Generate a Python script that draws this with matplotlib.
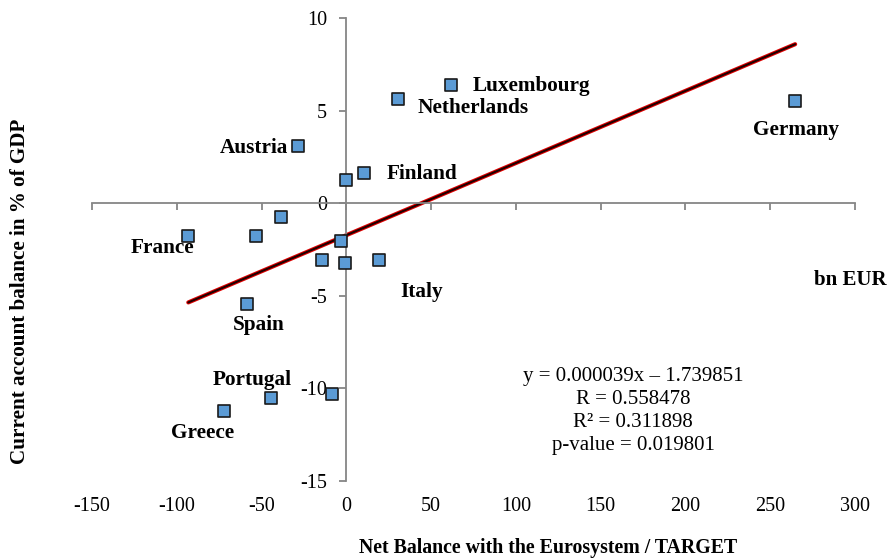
import matplotlib
matplotlib.use("Agg")
import matplotlib.pyplot as plt

plt.rcParams['font.family'] = ['Liberation Serif', 'DejaVu Serif']
plt.rcParams['axes.unicode_minus'] = False

# Data (bn EUR, % of GDP)
countries = ["Luxembourg", "Netherlands", "Germany", "Austria", "Finland", "",
             "", "France", "", "", "", "", "Italy", "Spain", "Portugal", "", "Greece"]
net_balance = [61.9, 30.7, 264.7, -28.3, 10.6, 0.0, -38.3, -93.2, -53.1, -2.9,
               -14.2, -0.6, 19.5, -58.4, -44.2, -8.3, -71.9]
current_account = [6.38, 5.62, 5.51, 3.08, 1.62, 1.24, -0.76, -1.78, -1.78, -2.05,
                   -3.08, -3.24, -3.08, -5.46, -10.54, -10.32, -11.24]

# regression as printed (slope per bn EUR)
slope = 0.039
intercept = -1.739851
stats_lines = ["y = 0.000039x \u2013 1.739851", "R = 0.558478",
               "R\u00b2 = 0.311898", "p-value = 0.019801"]

x_ticks = [-150, -100, -50, 0, 50, 100, 150, 200, 250, 300]
y_ticks = [-15, -10, -5, 0, 5, 10]

# label offsets in pixels (dx, dy, ha)
label_offsets = {
    "Luxembourg": (21, -1, "left"),
    "Netherlands": (19, -9, "left"),
    "Germany": (1, -29, "center"),
    "Austria": (-10, -2, "right"),
    "Finland": (22, -1, "left"),
    "France": (-26, -12, "center"),
    "Italy": (42, -32, "center"),
    "Spain": (11, -21, "center"),
    "Portugal": (-19, 18, "center"),
    "Greece": (-22, -22, "center"),
}

W, H = 889, 560
fig = plt.figure(figsize=(W / 100, H / 100), dpi=100)
ax = fig.add_axes([92 / W, 79.5 / H, 763 / W, 462.5 / H])
ax.set_xlim(-150, 300)
ax.set_ylim(-15, 10)

grey = "#868686"
for s in ["top", "right"]:
    ax.spines[s].set_visible(False)
ax.spines["left"].set_position(("data", 0))
ax.spines["bottom"].set_position(("data", 0))
for s in ["left", "bottom"]:
    ax.spines[s].set_color(grey)
    ax.spines[s].set_linewidth(1.3)

ax.set_xticks(x_ticks)
ax.set_yticks(y_ticks)
ax.tick_params(axis="both", direction="out", length=5, width=1.3, color=grey)
ax.tick_params(axis="x", labelbottom=False)
ax.tick_params(axis="y", labelsize=14.5, pad=9)

sec = ax.secondary_xaxis(location=0)
sec.set_xticks(x_ticks)
sec.spines["bottom"].set_visible(False)
sec.tick_params(axis="x", length=0, labelsize=14.5, pad=12)

# regression line
xmin, xmax = min(net_balance), max(net_balance)
xs = [xmin, xmax]
ys = [intercept + slope * v for v in xs]
ax.plot(xs, ys, color="#E00000", lw=3.0, solid_capstyle="round", zorder=2)
ax.plot(xs, ys, color="#200000", lw=1.5, solid_capstyle="round", zorder=2)

ax.scatter(net_balance, current_account, marker="s", s=70, facecolor="#5B9BD5",
           edgecolor="#1a1a1a", linewidth=1.2, zorder=3)

for name, x, y in zip(countries, net_balance, current_account):
    if name in label_offsets:
        dx, dy, ha = label_offsets[name]
        ax.annotate(name, xy=(x, y), xytext=(dx, dy), textcoords="offset pixels",
                    ha=ha, va="center", fontsize=15.3, fontweight="bold")

fig.text(633 / W, 1 - 411 / H, "\n".join(stats_lines), ha="center", va="center",
         fontsize=15, linespacing=1.27)
fig.text(850 / W, 1 - 280 / H, "bn EUR", ha="center", va="center",
         fontsize=15, fontweight="bold")
fig.text(20 / W, 1 - 291 / H, "Current account balance in % of GDP", rotation=90,
         ha="center", va="center", fontsize=15.2, fontweight="bold")
fig.text(548 / W, 1 - 548 / H, "Net Balance with the Eurosystem / TARGET",
         ha="center", va="center", fontsize=14.3, fontweight="bold")

fig.savefig("out.png", dpi=100)
